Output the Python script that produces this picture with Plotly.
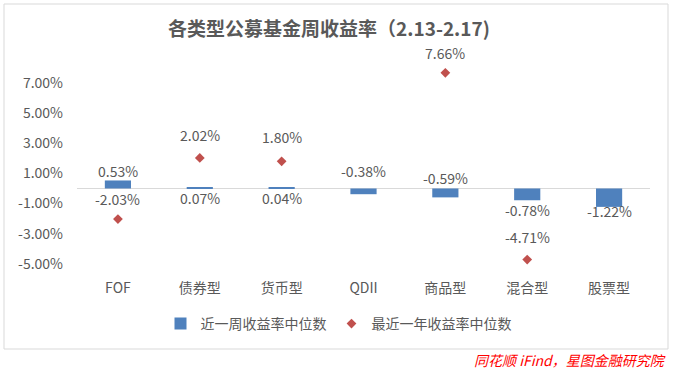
import plotly.graph_objects as go

categories = ["FOF", "债券型", "货币型", "QDII", "商品型", "混合型", "股票型"]
week_median = [0.53, 0.07, 0.04, -0.38, -0.59, -0.78, -1.22]
year_median = [-2.03, 2.02, 1.80, None, 7.66, -4.71, None]
tick_values = [-5, -3, -1, 1, 3, 5, 7]

# label offsets (pixels, style only)
week_shift = [9.5, -10.5, -10, 23, 19.5, -10, -4]
year_shift = [20, 23, 24, 0, 20, 23, 0]

FONT = "Noto Sans CJK SC"
GRAY = "#595959"

fig = go.Figure()
fig.add_trace(go.Bar(
    x=categories, y=week_median, name="近一周收益率中位数",
    marker=dict(color="#4F81BD", line=dict(width=0)), width=0.32,
))
fig.add_trace(go.Scatter(
    x=categories, y=year_median, name="最近一年收益率中位数", mode="markers",
    marker=dict(symbol="diamond", size=7.5, color="#C0504D"),
))

for c, v, s in zip(categories, week_median, week_shift):
    fig.add_annotation(x=c, y=v, text=f"{v:.2f}%", showarrow=False, yshift=s,
                       yanchor="middle", font=dict(family=FONT, size=14, color=GRAY))
for c, v, s in zip(categories, year_median, year_shift):
    if v is None:
        continue
    fig.add_annotation(x=c, y=v, text=f"{v:.2f}%", showarrow=False, yshift=s,
                       yanchor="middle", font=dict(family=FONT, size=14, color=GRAY))

# footer source
fig.add_annotation(xref="paper", yref="paper", x=(668 - 77) / 573, y=(278 - 360) / 218,
                   xanchor="right", yanchor="middle", showarrow=False,
                   text="<i>同花顺 iFind，星图金融研究院</i>",
                   font=dict(family=FONT, size=14, color="#FF0000"))

# chart border
fig.add_shape(type="rect", xref="paper", yref="paper",
              x0=(4 - 77) / 573, x1=(668 - 77) / 573,
              y0=(278 - 349) / 218, y1=(278 - 4) / 218,
              line=dict(color="#D9D9D9", width=1), fillcolor="rgba(0,0,0,0)", layer="below")

fig.update_layout(
    width=673, height=372,
    margin=dict(l=77, r=23, t=60, b=94),
    paper_bgcolor="white", plot_bgcolor="white",
    title=dict(text="<b>各类型公募基金周收益率（2.13-2.17)</b>", x=329 / 673, y=1 - 29 / 372,
               xanchor="center", yanchor="middle", xref="container", yref="container",
               font=dict(family=FONT, size=19, color=GRAY)),
    showlegend=True,
    legend=dict(orientation="h", x=(338.5 - 77) / 573, y=(278 - 324) / 218,
                xanchor="center", yanchor="middle",
                font=dict(family=FONT, size=14, color=GRAY), itemwidth=30,
                bgcolor="rgba(0,0,0,0)"),
    font=dict(family=FONT, size=14, color=GRAY),
)
fig.update_xaxes(showline=False, showgrid=False, ticks="", zeroline=False,
                 tickfont=dict(family=FONT, size=14, color=GRAY))
fig.update_yaxes(range=[-5.93, 8.51], tickvals=tick_values,
                 ticktext=[f"{t:.2f}%" for t in tick_values],
                 showgrid=False, showline=False, ticks="", ticklabelstandoff=13,
                 zeroline=True, zerolinecolor="#D9D9D9", zerolinewidth=1,
                 tickfont=dict(family=FONT, size=14, color=GRAY))

fig.write_html("out.html", config={"displayModeBar": False},
               post_script="document.body.style.margin='0';document.body.style.overflow='hidden';")
